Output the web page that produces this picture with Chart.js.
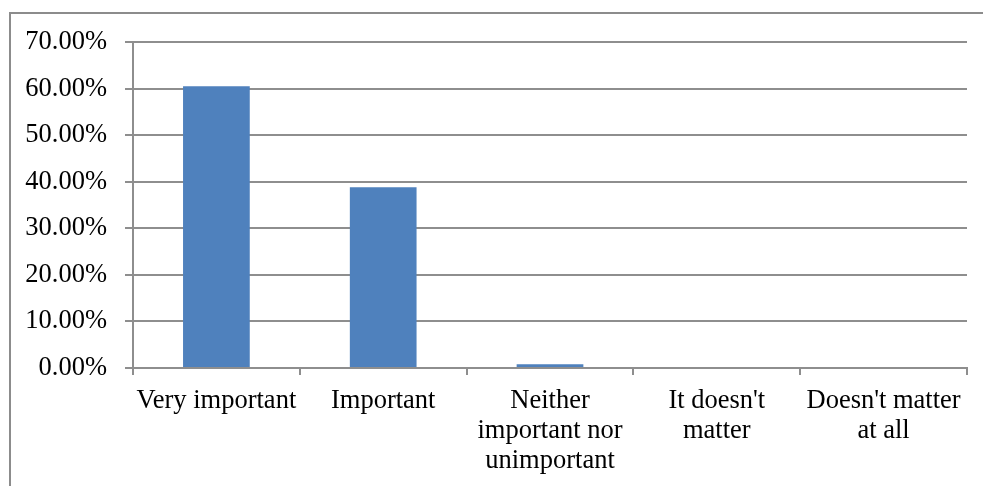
<!DOCTYPE html>
<html>
<head>
<meta charset="utf-8">
<script src="https://cdn.jsdelivr.net/npm/chart.js@4/dist/chart.umd.min.js"></script>
<style>
  html, body { margin: 0; padding: 0; background: #fff; overflow: hidden; }
  canvas { display: block; }
</style>
</head>
<body>
<canvas id="chart" width="983" height="486"></canvas>
<script>
// categories and values (percent)
const categories = [
  'Very important',
  'Important',
  ['Neither', 'important nor', 'unimportant'],
  ["It doesn't", 'matter'],
  ["Doesn't matter", 'at all']
];
const shares = [60.5, 38.8, 0.8, 0, 0];

const gridColor = '#8e8e8e';
const font = { family: '"Liberation Serif", "Times New Roman", serif', size: 26.5 };

// outer chart frame (only the left and top edges fall inside the picture)
const framePlugin = {
  id: 'frame',
  beforeDraw(chart) {
    const c = chart.ctx;
    c.save();
    c.strokeStyle = '#8c8c8c';
    c.lineWidth = 2;
    c.beginPath();
    c.moveTo(10, chart.height + 5);
    c.lineTo(10, 13);
    c.lineTo(chart.width + 5, 13);
    c.stroke();
    c.restore();
  }
};

const ctx = document.getElementById('chart').getContext('2d');
new Chart(ctx, {
  type: 'bar',
  data: {
    labels: categories,
    datasets: [{
      data: shares,
      backgroundColor: '#4f81bd',
      borderWidth: 0,
      barPercentage: 0.4,
      categoryPercentage: 1.0
    }]
  },
  plugins: [framePlugin],
  options: {
    responsive: false,
    animation: false,
    layout: { padding: { top: 42, right: 16, left: 0, bottom: 0 } },
    plugins: {
      legend: { display: false },
      tooltip: { enabled: false }
    },
    scales: {
      y: {
        min: 0,
        max: 70,
        afterFit: s => { s.width = 133; },
        ticks: {
          stepSize: 10,
          color: '#000',
          font: font,
          padding: 18,
          callback: v => v.toFixed(2) + '%'
        },
        grid: { color: gridColor, lineWidth: 2, tickLength: 8 },
        border: { color: gridColor, width: 2 }
      },
      x: {
        afterFit: s => { s.height = 118; },
        ticks: {
          color: '#000',
          font: Object.assign({ lineHeight: 1.13 }, font),
          padding: 11,
          maxRotation: 0,
          autoSkip: false
        },
        grid: { offset: true, drawOnChartArea: false, color: gridColor, lineWidth: 2, tickLength: 7 },
        border: { color: gridColor, width: 2 }
      }
    }
  }
});
</script>
</body>
</html>
